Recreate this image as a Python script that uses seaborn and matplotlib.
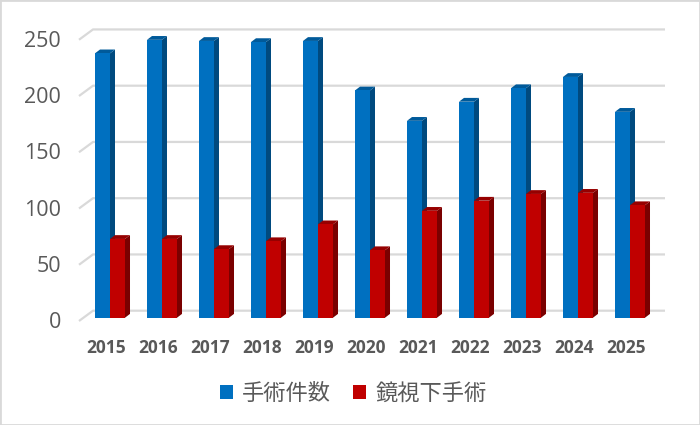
import pandas as pd
import matplotlib
matplotlib.use("Agg")
import matplotlib.pyplot as plt
import matplotlib.transforms as mtrans
import seaborn as sns
from matplotlib.patches import Polygon, Rectangle

# values
years = ["2015", "2016", "2017", "2018", "2019", "2020", "2021", "2022", "2023", "2024", "2025"]
surgeries = [235, 247, 246, 245, 246, 202, 175, 192, 204, 214, 183]
endoscopic = [70, 70, 61, 68, 83, 60, 95, 104, 110, 111, 100]
series_names = ["手術件数", "鏡視下手術"]

face_colors = ["#0070C0", "#C00000"]
side_colors = ["#004A7F", "#7A0000"]
top_colors = ["#005A9A", "#960000"]
text_color = "#595959"
grid_color = "#D9D9D9"

df = pd.DataFrame({
    "year": years * 2,
    "count": surgeries + endoscopic,
    "series": [series_names[0]] * len(years) + [series_names[1]] * len(years),
})

sns.set_theme(style="white")
plt.rcParams["font.family"] = ["Open Sans", "Noto Sans CJK JP", "DejaVu Sans"]

W, H = 700, 425
fig = plt.figure(figsize=(W / 100, H / 100), dpi=100)
ax = fig.add_axes([84 / W, 1 - 317.7 / H, 572 / W, 281.25 / H])

sns.barplot(data=df, x="year", y="count", hue="series", order=years, hue_order=series_names,
            palette=face_colors, width=0.577, gap=0, saturation=1, dodge=True, ax=ax, legend=False,
            linewidth=0)
ax.set_xlim(-0.5, 10.5)
ax.set_ylim(0, 250)
ax.set_xlabel("")
ax.set_ylabel("")
sns.despine(ax=ax, left=True, bottom=True)

# pixel sizes turned into data units
px_x = 11 / 572
px_y = 250 / 281.25

# gridlines sit on the back wall, with a short diagonal on the floor
yticks = [0, 50, 100, 150, 200, 250]
ax.set_yticks(yticks)
for v in yticks:
    ax.plot([-0.5 - 5 * px_x, -0.5 + 9 * px_x, 10.5 + 9 * px_x],
            [v - 3.3 * px_y, v + 7 * px_y, v + 7 * px_y],
            color=grid_color, lw=1.6, clip_on=False, zorder=1, solid_capstyle="butt")

# fake 3D sides and tops from the bars seaborn drew
depth_x = 5 * px_x
depth_y = 3.8 * px_y
for i, container in enumerate(ax.containers):
    z = 2 + i
    for bar in container:
        bar.set_zorder(z + 0.1)
        bar.set_clip_on(False)
        x0, x1 = bar.get_x(), bar.get_x() + bar.get_width()
        h = bar.get_height()
        ax.add_patch(Polygon([(x1, 0), (x1 + depth_x, depth_y), (x1 + depth_x, h + depth_y), (x1, h)],
                             facecolor=side_colors[i], edgecolor="none", zorder=z, clip_on=False))
        ax.add_patch(Polygon([(x0, h), (x0 + depth_x, h + depth_y), (x1 + depth_x, h + depth_y), (x1, h)],
                             facecolor=top_colors[i], edgecolor="none", zorder=z, clip_on=False))

ax.tick_params(axis="y", length=0, pad=16.5, labelsize=15.5, labelcolor=text_color)
ax.tick_params(axis="x", length=0, pad=15, labelsize=12.5, labelcolor=text_color)
# labels in the reference sit a little off the tick positions
shift_x = mtrans.ScaledTranslation(-4 / 100, 0, fig.dpi_scale_trans)
shift_y = mtrans.ScaledTranslation(0, -2.5 / 100, fig.dpi_scale_trans)
for lab in ax.get_xticklabels():
    lab.set_fontweight("bold")
    lab.set_transform(lab.get_transform() + shift_x)
for lab in ax.get_yticklabels():
    lab.set_transform(lab.get_transform() + shift_y)

handles = [Rectangle((0, 0), 1, 1, facecolor=c, edgecolor="none") for c in face_colors]
fig.legend(handles, series_names, loc="center", bbox_to_anchor=(353.5 / W, 1 - 394 / H), ncol=2, frameon=False,
           fontsize=16, labelcolor=text_color, handlelength=0.58, handleheight=0.58,
           handletextpad=0.42, columnspacing=1.0)

# chart frame
fig.add_artist(Rectangle((0, 0), 1, 1, transform=fig.transFigure, fill=False, edgecolor=grid_color, lw=2))

fig.savefig("out.png", dpi=100)
